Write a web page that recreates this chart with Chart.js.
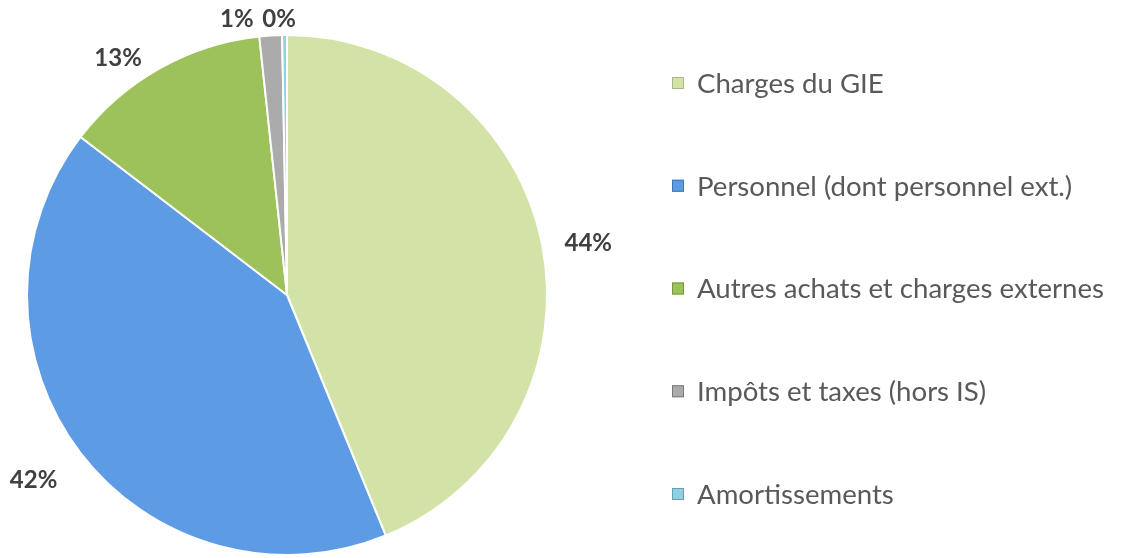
<!DOCTYPE html>
<html>
<head>
<meta charset="utf-8">
<script src="https://cdn.jsdelivr.net/npm/chart.js@4.4.0/dist/chart.umd.min.js"></script>
<style>
  html, body { margin: 0; padding: 0; background: #fff; }
  #wrap { width: 1124px; height: 558px; }
</style>
</head>
<body>
<div id="wrap"><canvas id="graph"></canvas></div>
<script>
// Donnees (parts en %)
const categories = ['Charges du GIE', 'Personnel (dont personnel ext.)', 'Autres achats et charges externes', 'Impôts et taxes (hors IS)', 'Amortissements'];
const valeurs = [43.8, 41.6, 12.9, 1.4, 0.3];
const couleurs = ['#d3e3a7', '#5d9ce4', '#9dc15b', '#ababab', '#8fd0e2'];
const bordures = ['#a9b985', '#3f74b5', '#76963f', '#7a7a7a', '#5aa5b8'];
// petits decalages des etiquettes (texte seulement)
const decalageX = [3, -12, -20, -31, -5];
const decalageY = [7, 0, 28, 28, 28];

// Etiquettes de pourcentage a l'exterieur des parts
const etiquettes = {
    id: 'etiquettes',
    afterDatasetsDraw(chart) {
        const ctx = chart.ctx;
        const meta = chart.getDatasetMeta(0);
        const total = valeurs.reduce((a, b) => a + b, 0);
        ctx.save();
        ctx.font = 'bold 24px Lato';
        ctx.fillStyle = '#404040';
        ctx.textAlign = 'center';
        ctx.textBaseline = 'middle';
        meta.data.forEach((arc, i) => {
            const angle = (arc.startAngle + arc.endAngle) / 2;
            const r = arc.outerRadius + 44;
            const x = arc.x + Math.cos(angle) * r + decalageX[i];
            const y = arc.y + Math.sin(angle) * r + decalageY[i];
            ctx.fillText(Math.round(valeurs[i] / total * 100) + '%', x, y);
        });
        ctx.restore();
    }
};

// Legende a droite, facon Excel
const legende = {
    id: 'legende',
    afterDraw(chart) {
        const ctx = chart.ctx;
        ctx.save();
        ctx.font = '27.6px Lato';
        ctx.textBaseline = 'middle';
        categories.forEach((nom, i) => {
            const y = 83 + i * 102.75;
            ctx.fillStyle = couleurs[i];
            ctx.fillRect(672, y - 6, 12, 12);
            ctx.strokeStyle = bordures[i];
            ctx.lineWidth = 1;
            ctx.strokeRect(672.5, y - 5.5, 11, 11);
            ctx.fillStyle = '#595959';
            ctx.fillText(nom, 697, y + 1);
        });
        ctx.restore();
    }
};

const data = {
    labels: categories,
    datasets: [{
        data: valeurs,
        backgroundColor: couleurs,
        borderColor: '#ffffff',
        borderWidth: 2,
    }]
};

const config = {
    type: 'pie',
    data: data,
    options: {
        responsive: false,
        animation: false,
        layout: { padding: { top: 34, bottom: 2, left: 26, right: 576 } },
        plugins: {
            tooltip: { enabled: false },
            legend: { display: false }
        }
    },
    plugins: [etiquettes, legende]
};

const chartDOM = document.getElementById('graph');
chartDOM.width = 1124;
chartDOM.height = 558;
new Chart(chartDOM, config);
</script>
</body>
</html>
